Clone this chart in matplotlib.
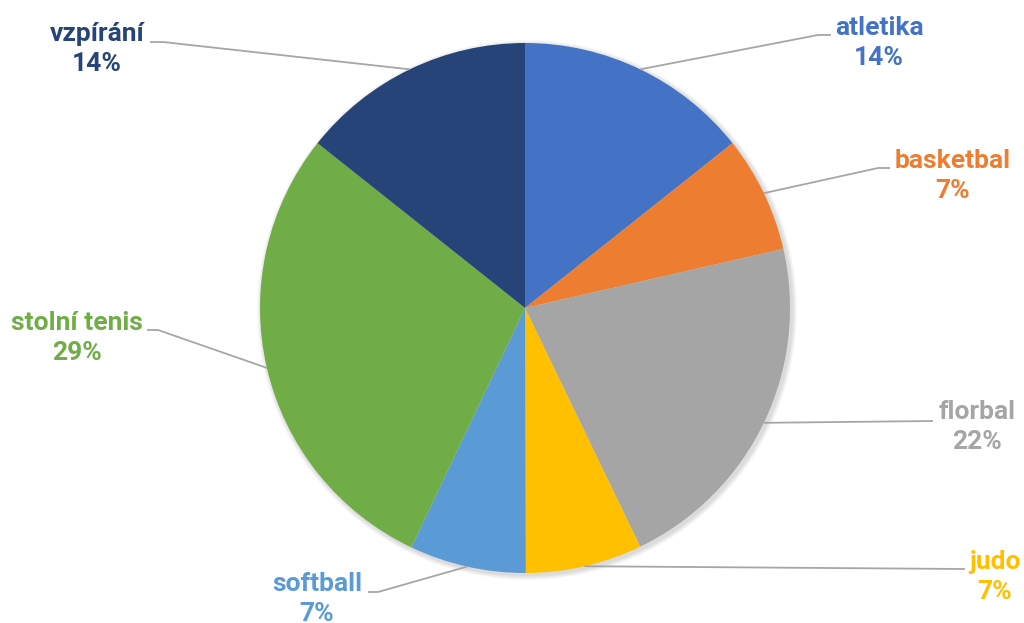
import numpy as np
import matplotlib
matplotlib.use("Agg")
import matplotlib.pyplot as plt
from matplotlib.patches import Circle

# data
sports = ["atletika", "basketbal", "florbal", "judo", "softball", "stolní tenis", "vzpírání"]
shares = [14.3, 7.1, 21.4, 7.1, 7.1, 28.6, 14.3]
pct_labels = ["14%", "7%", "22%", "7%", "7%", "29%", "14%"]
colors = ["#4472C4", "#ED7D31", "#A5A5A5", "#FFC000", "#5B9BD5", "#70AD47", "#264478"]

# layout (pixel coords, y down)
W, H = 1024, 623
center = (525, 308)
radius = 265
label_xy = [(879, 43), (953, 176), (977, 427), (995, 577), (317, 599), (77, 338), (97, 49)]
elbow_xy = [(818, 35), (878, 168), (933, 421), (965, 569), (378, 592), (158, 330), (163, 42)]
end_xy = [(831, 35), (890, 168), (933, 421), (965, 569), (368, 592), (147, 330), (150, 42)]

fig = plt.figure(figsize=(W / 100, H / 100), dpi=100)
ax = fig.add_axes([0, 0, 1, 1])

# soft shadow under the pie
for k in range(6):
    ax.add_patch(Circle((center[0] + 2, center[1] + 2), radius + 1 + k * 0.8,
                        color="black", alpha=0.025, lw=0, zorder=0))

wedges, _ = ax.pie(shares, colors=colors, startangle=-90, counterclock=True,
                   center=center, radius=radius,
                   wedgeprops=dict(linewidth=0, zorder=1))

ax.set_xlim(0, W)
ax.set_ylim(H, 0)
ax.set_aspect("equal")
ax.axis("off")

for i, w in enumerate(wedges):
    mid = np.deg2rad((w.theta1 + w.theta2) / 2)
    rim = (center[0] + radius * np.cos(mid), center[1] + radius * np.sin(mid))
    xs = [rim[0], elbow_xy[i][0], end_xy[i][0]]
    ys = [rim[1], elbow_xy[i][1], end_xy[i][1]]
    ax.plot(xs, ys, color="#A6A6A6", lw=1.3, zorder=2, solid_capstyle="butt")
    ax.text(label_xy[i][0], label_xy[i][1], sports[i] + "\n" + pct_labels[i],
            ha="center", va="center", color=colors[i], fontsize=19,
            fontfamily="Roboto", fontweight="bold", linespacing=1.3, zorder=3)

fig.savefig("out.png", dpi=100, facecolor="white")
